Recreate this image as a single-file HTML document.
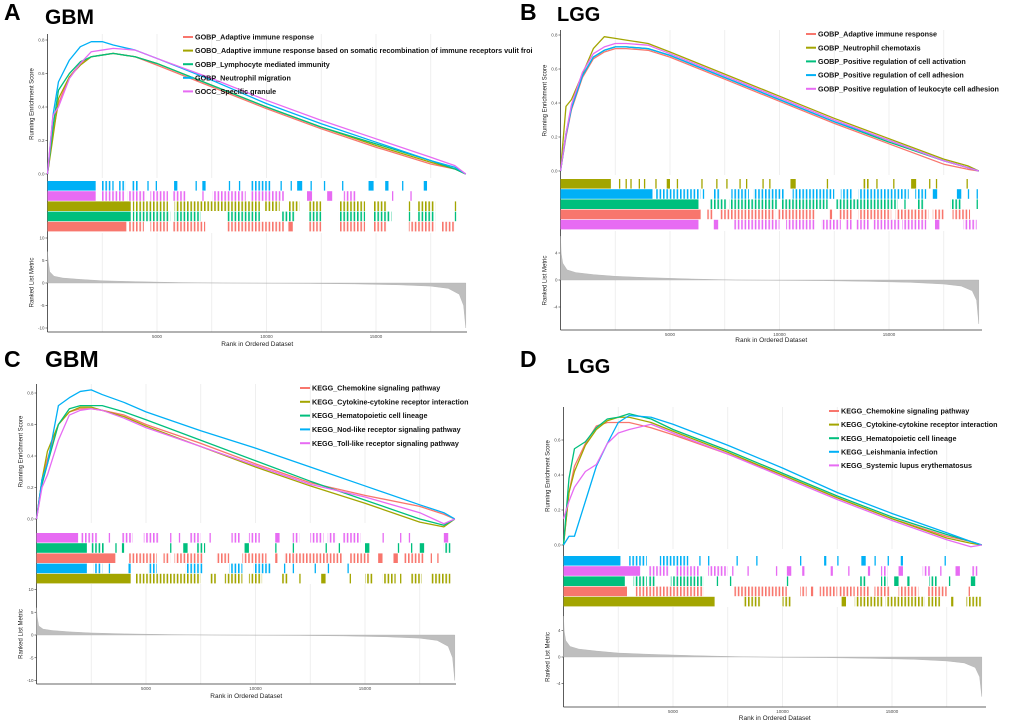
<!DOCTYPE html>
<html><head><meta charset="utf-8"><style>
body{margin:0;background:#fff;}
svg{display:block;font-family:"Liberation Sans",Arial,sans-serif;}
</style></head><body>
<svg id="fig" width="1020" height="726" viewBox="0 0 1020 726"></svg>
<script>
// ---- shared data ----
const esRanks=[0,250,500,1000,1500,2000,2500,3000,4000,5000,7500,10000,12500,15000,17500,18600,19100];
const rankPos=[0,30,100,300,700,1500,2500,4000,6000,8000,10000,12000,14000,16000,17500,18300,18800,19000,19100];
const xTickVals=[5000,10000,15000];
// Panel A
const aNames=["GOBP_Adaptive immune response","GOBO_Adaptive immune response based on somatic recombination  of immune receptors vulit froi","GOBP_Lymphocyte mediated immunity","GOBP_Neutrophil migration","GOCC_Specific granule"];
const aRed=[0,0.25,0.42,0.58,0.66,0.70,0.71,0.72,0.70,0.65,0.52,0.39,0.27,0.16,0.06,0.03,0];
const aOlive=[0,0.22,0.45,0.58,0.65,0.70,0.71,0.72,0.70,0.66,0.53,0.40,0.28,0.17,0.07,0.03,0];
const aGreen=[0,0.28,0.50,0.60,0.67,0.70,0.71,0.72,0.70,0.66,0.53,0.40,0.28,0.18,0.08,0.03,0];
const aBlue=[0,0.35,0.55,0.68,0.76,0.79,0.79,0.77,0.74,0.69,0.56,0.42,0.30,0.19,0.08,0.04,0];
const aPink=[0,0.35,0.40,0.57,0.66,0.73,0.74,0.75,0.74,0.69,0.57,0.44,0.32,0.21,0.10,0.05,0];
const aHitBlue=[[0,2200],[2430,2890],[2960,2970],[3270,3570],[3880,4180],[4560,4570],[4940,4950],[5780,5930],[6760,6770],[7070,7220],[8280,8290],[8740,8750],[9270,10180],[10640,10650],[11100,11110],[11400,11630],[12010,12020],[12620,12630],[13450,13460],[14660,14890],[15420,15570],[16190,16200],[17180,17330]];
const aHitPink=[[0,2200],[2430,3500],[3650,4500],[4700,5500],[5700,6300],[7070,7080],[7530,9050],[9270,10800],[11850,12080],[12770,13000],[13530,14130],[15730,15740],[16570,16580]];
const aHitOlive=[[0,3800],[3900,5500],[5800,7300],[7300,9700],[9900,10600],[11000,11500],[11900,12500],[13300,14500],[14900,15500],[16500,16510],[16900,17700],[18600,18610]];
const aHitGreen=[[0,3800],[3900,5600],[5800,7000],[8200,9700],[10700,11300],[11900,12500],[13300,14500],[14900,15700],[16500,16510],[16900,17700],[18600,18610]];
const aHitRed=[[0,3600],[3700,4400],[4700,5500],[5700,7200],[8200,9600],[9600,10800],[11000,11200],[11900,12500],[13300,14500],[14900,15500],[16500,17700],[18000,18600]];
const aMetric=[7,5,2.5,1.5,1.1,0.8,0.5,0.3,0.1,0,-0.05,-0.1,-0.2,-0.4,-0.7,-1.2,-2.5,-5,-10];
// Panel B
const bNames=["GOBP_Adaptive immune response","GOBP_Neutrophil chemotaxis","GOBP_Positive regulation of  cell activation","GOBP_Positive regulation of cell adhesion","GOBP_Positive regulation of leukocyte cell adhesion"];
const bRed=[0,0.20,0.36,0.55,0.66,0.70,0.72,0.72,0.71,0.67,0.54,0.41,0.28,0.16,0.04,0.01,0];
const bOlive=[0,0.38,0.42,0.57,0.72,0.79,0.78,0.77,0.75,0.70,0.57,0.44,0.31,0.19,0.07,0.03,0];
const bGreen=[0,0.22,0.37,0.56,0.67,0.71,0.73,0.73,0.72,0.68,0.55,0.42,0.29,0.17,0.06,0.02,0];
const bBlue=[0,0.21,0.37,0.56,0.67,0.71,0.73,0.73,0.72,0.68,0.55,0.42,0.29,0.18,0.06,0.02,0];
const bPink=[0,0.22,0.39,0.58,0.69,0.73,0.75,0.75,0.74,0.69,0.56,0.43,0.30,0.18,0.06,0.02,0];
const bHitOlive=[[0,2300],[2670,2680],[2970,2980],[3190,3200],[3570,3580],[3810,3820],[4330,4340],[4850,5000],[5310,5320],[6430,6440],[7110,7120],[7570,7580],[8170,8180],[8470,8480],[9220,9230],[9530,9540],[10500,10740],[12160,12170],[13820,14120],[14420,14430],[15190,15200],[16010,16240],[16830,16840],[17140,17150],[18540,18550]];
const bHitBlue=[[0,4200],[4300,6400],[6500,6510],[7000,7300],[7800,8600],[8800,10200],[10600,12500],[12800,13300],[13600,15900],[16200,16700],[17000,17200],[18100,18300],[18600,18610],[19000,19010]];
const bHitGreen=[[0,6300],[6800,7600],[7700,9900],[10100,12200],[12600,15400],[15700,15710],[16300,16600],[17800,18300],[19000,19010]];
const bHitRed=[[0,6400],[6700,7000],[7300,9800],[9900,11600],[12300,12400],[12700,13300],[13600,15100],[15300,16800],[17000,17500],[17900,18700]];
const bHitPink=[[0,6300],[7000,7200],[7900,10000],[10300,11600],[11900,12800],[13000,13300],[13500,14100],[14300,15500],[15600,16700],[17100,17300],[18400,19000]];
const bMetric=[6.5,4,2.5,1.5,1.1,0.8,0.55,0.35,0.15,0,-0.05,-0.1,-0.2,-0.35,-0.6,-0.9,-1.6,-3,-6.5];
// Panel C
const cNames=["KEGG_Chemokine signaling pathway","KEGG_Cytokine-cytokine receptor interaction","KEGG_Hematopoietic cell lineage","KEGG_Nod-like receptor signaling pathway","KEGG_Toll-like receptor signaling pathway"];
const cRed=[0,0.25,0.38,0.60,0.68,0.70,0.70,0.69,0.66,0.60,0.48,0.35,0.23,0.15,0.08,0.03,0];
const cOlive=[0,0.25,0.43,0.60,0.68,0.71,0.71,0.69,0.65,0.59,0.46,0.33,0.21,0.10,-0.02,-0.05,0];
const cGreen=[0,0.22,0.35,0.60,0.70,0.72,0.72,0.72,0.68,0.63,0.50,0.37,0.24,0.12,0.00,-0.04,0];
const cBlue=[0,0.25,0.35,0.72,0.77,0.81,0.82,0.79,0.74,0.68,0.56,0.45,0.33,0.21,0.09,0.04,0];
const cPink=[0,0.20,0.28,0.50,0.66,0.69,0.70,0.69,0.64,0.58,0.46,0.34,0.22,0.14,0.04,-0.03,0];
const cHitPink=[[0,1900],[2000,2800],[3300,3310],[3900,4400],[4900,5600],[6100,6110],[6500,6510],[7000,7500],[7900,7910],[8900,9300],[9700,10200],[10900,11100],[11700,12000],[12500,13100],[13300,13700],[14000,14800],[15800,15810],[16600,16610],[17000,17010],[18600,18800]];
const cHitGreen=[[0,2300],[2500,3100],[3600,3610],[3900,4000],[6100,6110],[6700,6900],[7300,7700],[9500,9700],[10900,10910],[11700,11710],[13200,13210],[13800,13810],[15000,15200],[16500,16510],[17100,17110],[17500,17700],[18600,18900]];
const cHitRed=[[0,3600],[4200,5000],[5000,5500],[5800,6100],[6300,7600],[8200,8800],[9400,10500],[10900,11000],[11300,14000],[14300,15200],[15600,15800],[16300,16500],[16800,17700],[18000,18010],[18300,18310]];
const cHitBlue=[[0,2300],[2600,3000],[3300,3310],[4200,4300],[5100,5500],[6800,7600],[8800,9400],[9900,10700],[11300,11310],[11700,11710],[12700,12710],[13300,13310],[14200,14210]];
const cHitOlive=[[0,4300],[4500,7500],[7900,8200],[8600,9400],[9700,10300],[11200,11500],[12000,12010],[13000,13200],[14300,14310],[15000,15400],[15800,16400],[16600,16610],[17100,17600],[18000,18900]];
const cMetric=[6,4,2,1.3,1.0,0.7,0.45,0.25,0.1,0,-0.05,-0.1,-0.2,-0.4,-0.7,-1.2,-2.5,-5,-10];
// Panel D
const dNames=["KEGG_Chemokine signaling pathway","KEGG_Cytokine-cytokine receptor interaction","KEGG_Hematopoietic cell lineage","KEGG_Leishmania infection","KEGG_Systemic lupus erythematosus"];
const dRed=[0,0.30,0.45,0.58,0.68,0.70,0.70,0.70,0.67,0.63,0.52,0.40,0.27,0.15,0.05,0.02,0];
const dOlive=[0,0.30,0.42,0.57,0.66,0.71,0.73,0.73,0.70,0.65,0.53,0.40,0.27,0.15,0.04,0.01,0];
const dGreen=[0,0.38,0.55,0.59,0.67,0.72,0.73,0.75,0.72,0.66,0.54,0.41,0.28,0.16,0.06,0.02,0];
const dBlue=[0,0.05,0.05,0.25,0.45,0.58,0.70,0.74,0.73,0.69,0.57,0.44,0.30,0.18,0.07,0.02,0];
const dPink=[0.15,0.25,0.33,0.42,0.46,0.58,0.64,0.66,0.69,0.64,0.52,0.39,0.26,0.14,0.03,-0.01,0];
const dHitBlue=[[0,2600],[3000,3800],[4400,5700],[6200,6210],[6600,6610],[7900,7910],[8800,8810],[10800,10810],[11900,12000],[12500,12510],[13600,13800],[14200,14210],[14800,14810],[15400,15500],[17400,17410]];
const dHitPink=[[0,3500],[3900,4800],[5100,6200],[6600,7500],[7700,7710],[8400,8410],[9700,9710],[10200,10400],[10900,11000],[12200,12300],[13000,13010],[13900,14000],[14500,14800],[15300,15500],[16400,16800],[17200,17210],[17900,18100],[18600,18900]];
const dHitGreen=[[0,2800],[3200,3800],[3900,4200],[4900,6400],[7000,7010],[7600,7610],[10200,10210],[13500,13800],[14500,14800],[15100,15300],[15700,15800],[16700,17100],[17600,17610],[18600,18800]];
const dHitRed=[[0,2900],[3300,6400],[7800,10200],[10800,11100],[11300,11400],[11700,12500],[12600,13300],[13400,14000],[14200,14900],[15300,16200],[16600,17500],[18500,18510]];
const dHitOlive=[[0,6900],[8200,9000],[10000,10400],[12700,12900],[13300,14600],[14700,16500],[16600,17200],[17700,17800],[18400,19100]];
const dMetric=[6.2,4,2.5,1.6,1.2,0.9,0.6,0.4,0.2,0.05,-0.05,-0.1,-0.2,-0.35,-0.6,-0.9,-1.6,-3,-6];

const RED="#F8766D",OLIVE="#A3A500",GREEN="#00BF7D",BLUE="#00B0F6",PINK="#E76BF3";
const NS="http://www.w3.org/2000/svg";
const svg=document.getElementById('fig');
function el(tag,attrs,parent,txt){const e=document.createElementNS(NS,tag);for(const k in attrs)e.setAttribute(k,attrs[k]);if(txt!==undefined)e.textContent=txt;(parent||svg).appendChild(e);return e;}

// tick patterns for sparse hit regions
const defs=el('defs',{});
const patId={};
[[RED,'r'],[OLIVE,'o'],[GREEN,'g'],[BLUE,'b'],[PINK,'p']].forEach(([c,k])=>{
  const pt=el('pattern',{id:'pt'+k,patternUnits:'userSpaceOnUse',width:3.4,height:20},defs);
  el('rect',{x:0,y:0,width:1.6,height:20,fill:c},pt);
  patId[c]='url(#pt'+k+')';
});

const panels=[
 {id:'a',letter:'A',title:'GBM',lx:4,ly:20,tx:45,ty:24,tfs:21,x0:47.5,xEnd:467,esTop:34,esZero:174,esUnit:167.5,esTicks:[0,0.2,0.4,0.6,0.8],hitTop:181,hitH:10.2,rankTop:233,rankBot:332,rankZero:283,rankUnit:4.5,rankTicks:[10,5,0,-5,-10],legX:183,legY:37,legDy:13.6,xlabY:346,
  names:aNames,curves:[[aRed,RED],[aOlive,OLIVE],[aGreen,GREEN],[aBlue,BLUE],[aPink,PINK]],
  hits:[[aHitBlue,BLUE],[aHitPink,PINK],[aHitOlive,OLIVE],[aHitGreen,GREEN],[aHitRed,RED]],metric:aMetric},
 {id:'b',letter:'B',title:'LGG',lx:520,ly:20,tx:557,ty:21,tfs:20,x0:560.5,xEnd:982,esTop:30,esZero:171,esUnit:170,esTicks:[0,0.2,0.4,0.6,0.8],hitTop:179,hitH:10.2,rankTop:231,rankBot:330,rankZero:280,rankUnit:6.75,rankTicks:[4,0,-4],legX:806,legY:34,legDy:13.7,xlabY:342,
  names:bNames,curves:[[bRed,RED],[bOlive,OLIVE],[bGreen,GREEN],[bBlue,BLUE],[bPink,PINK]],
  hits:[[bHitOlive,OLIVE],[bHitBlue,BLUE],[bHitGreen,GREEN],[bHitRed,RED],[bHitPink,PINK]],metric:bMetric},
 {id:'c',letter:'C',title:'GBM',lx:4,ly:367,tx:45,ty:367,tfs:23,x0:36.5,xEnd:456,esTop:384,esZero:519,esUnit:157.5,esTicks:[0,0.2,0.4,0.6,0.8],hitTop:533,hitH:10.2,rankTop:584,rankBot:684,rankZero:635,rankUnit:4.55,rankTicks:[10,5,0,-5,-10],legX:300,legY:388,legDy:13.8,xlabY:698,
  names:cNames,curves:[[cRed,RED],[cOlive,OLIVE],[cGreen,GREEN],[cBlue,BLUE],[cPink,PINK]],
  hits:[[cHitPink,PINK],[cHitGreen,GREEN],[cHitRed,RED],[cHitBlue,BLUE],[cHitOlive,OLIVE]],metric:cMetric},
 {id:'d',letter:'D',title:'LGG',lx:520,ly:367,tx:567,ty:373,tfs:20,x0:563.5,xEnd:986,esTop:407,esZero:545,esUnit:175,esTicks:[0,0.2,0.4,0.6],hitTop:556,hitH:10.2,rankTop:607,rankBot:707,rankZero:657,rankUnit:6.6,rankTicks:[4,0,-4],legX:829,legY:411,legDy:13.6,xlabY:720,
  names:dNames,curves:[[dRed,RED],[dOlive,OLIVE],[dGreen,GREEN],[dBlue,BLUE],[dPink,PINK]],
  hits:[[dHitBlue,BLUE],[dHitPink,PINK],[dHitGreen,GREEN],[dHitRed,RED],[dHitOlive,OLIVE]],metric:dMetric}
];

panels.forEach(p=>{
  const g=el('g',{});
  
  
  const pxPer=109.5/5000;
  const xs=r=>p.x0+r*pxPer;
  const ys=v=>p.esZero-v*p.esUnit;
  const yr=v=>p.rankZero-v*p.rankUnit;
  const L=el('text',{x:p.lx,y:p.ly,'font-size':23,'font-weight':'bold',fill:'#000'},g,p.letter);
  
  
  const T=el('text',{x:p.tx,y:p.ty,'font-size':p.tfs,'font-weight':'bold',fill:'#000'},g,p.title);
  
  
  for(let r=2500;r<19100;r+=2500){
    const x=xs(r);
    const gl1=el('line',{x1:x,x2:x,y1:p.esTop,y2:p.esZero+4,stroke:'#EBEBEB','stroke-width':0.8},g);
    
    
    const gl2=el('line',{x1:x,x2:x,y1:p.rankTop,y2:p.rankBot,stroke:'#EBEBEB','stroke-width':0.8},g);
    
    
  }
  const ax=el('line',{x1:p.x0,x2:p.x0,y1:p.esTop,y2:p.rankBot,stroke:'#333','stroke-width':0.8},g);
  
  
  const bx=el('line',{x1:p.x0,x2:p.xEnd,y1:p.rankBot,y2:p.rankBot,stroke:'#333','stroke-width':0.8},g);
  
  
  p.esTicks.forEach(v=>{
    const t=el('text',{x:p.x0-3,y:ys(v)+1.5,'font-size':4.5,'text-anchor':'end',fill:'#4D4D4D'},g,v.toFixed(1));
    
    
    el('line',{x1:p.x0-2,x2:p.x0,y1:ys(v),y2:ys(v),stroke:'#333','stroke-width':0.6},g);
  });
  p.rankTicks.forEach(v=>{
    const t=el('text',{x:p.x0-3,y:yr(v)+1.5,'font-size':4.5,'text-anchor':'end',fill:'#4D4D4D'},g,String(v));
    
    
    el('line',{x1:p.x0-2,x2:p.x0,y1:yr(v),y2:yr(v),stroke:'#333','stroke-width':0.6},g);
  });
  xTickVals.forEach(v=>{
    const t=el('text',{x:xs(v),y:p.rankBot+6,'font-size':4.5,'text-anchor':'middle',fill:'#4D4D4D'},g,String(v));
    
    
  });
  const yt1=el('text',{x:0,y:0,'font-size':6,'text-anchor':'middle',fill:'#222',transform:`translate(${p.x0-14},${(p.esTop+p.esZero)/2}) rotate(-90)`},g,'Running Enrichment Score');
  
  
  const yt2=el('text',{x:0,y:0,'font-size':6,'text-anchor':'middle',fill:'#222',transform:`translate(${p.x0-14},${(p.rankTop+p.rankBot)/2}) rotate(-90)`},g,'Ranked List Metric');
  
  
  const xt=el('text',{x:(p.x0+p.xEnd)/2,y:p.xlabY,'font-size':6.5,'text-anchor':'middle',fill:'#222'},g,'Rank in Ordered Dataset');
  
  
  let d=`M${xs(rankPos[0])},${yr(0)}`;
  rankPos.forEach((r,i)=>{d+=` L${xs(r).toFixed(2)},${yr(p.metric[i]).toFixed(2)}`;});
  d+=` L${xs(rankPos[rankPos.length-1])},${yr(0)} Z`;
  const area=el('path',{d:d,fill:'#BEBEBE',stroke:'#B0B0B0','stroke-width':0.4},g);
  
  
  p.hits.forEach((h,row)=>{
    const y=p.hitTop+row*p.hitH;
    h[0].forEach((iv,k)=>{
      const x1=xs(iv[0]);const w=Math.max(xs(iv[1])-x1,1.3);
      const fill=(k===0||w<6)?h[1]:patId[h[1]];
      const r=el('rect',{x:x1.toFixed(2),y:y.toFixed(2),width:w.toFixed(2),height:p.hitH-0.6,fill:fill},g);
      
      
    });
  });
  p.curves.forEach((c,i)=>{
    const pts=esRanks.map((r,k)=>`${xs(r).toFixed(2)},${ys(c[0][k]).toFixed(2)}`).join(' ');
    const pl=el('polyline',{points:pts,fill:'none',stroke:c[1],'stroke-width':1.3,'stroke-linejoin':'round'},g);
    
    
  });
  p.names.forEach((n,i)=>{
    const y=p.legY+i*p.legDy;
    const sw=el('line',{x1:p.legX,x2:p.legX+10,y1:y,y2:y,stroke:p.curves[i][1],'stroke-width':2},g);
    
    
    const t=el('text',{x:p.legX+12,y:y+2.6,'font-size':7.2,'font-weight':'bold',fill:'#111'},g,n);
    
    
  });
});
</script>
</body></html>
